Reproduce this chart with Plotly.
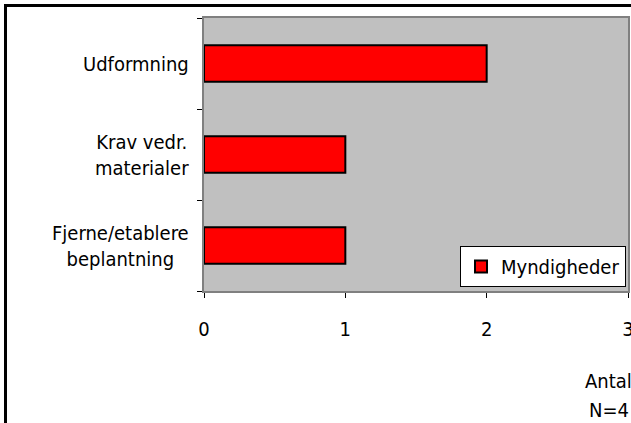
import plotly.graph_objects as go

categories = ["Fjerne/etablere<br>beplantning", "Krav vedr.<br>materialer", "Udformning"]
values = [1, 1, 2]
series_name = "Myndigheder"
x_ticks = [0, 1, 2, 3]

FONT = "DejaVu Sans Condensed"
FS = 20
W, H = 631, 423
L, R, T, B = 204, 3, 18, 132
pw = W - L - R
ph = H - T - B

fig = go.Figure()
fig.add_trace(go.Bar(
    y=categories, x=values, orientation="h", name=series_name,
    marker=dict(color="#FF0000", line=dict(color="black", width=2)),
    width=0.4, showlegend=True,
))

for c in categories:
    fig.add_annotation(
        x=0, xref="paper", y=c, yref="y", text=c, showarrow=False,
        xanchor="right", yanchor="middle", align="center", xshift=-13,
        font=dict(family=FONT, size=FS, color="black"),
    )

fig.add_annotation(x=(608 - L) / pw, xref="paper", y=(T + ph - 381) / ph, yref="paper",
                   text="Antal", showarrow=False, xanchor="center", yanchor="middle",
                   font=dict(family=FONT, size=FS, color="black"))
fig.add_annotation(x=(609 - L) / pw, xref="paper", y=(T + ph - 410) / ph, yref="paper",
                   text="N=4", showarrow=False, xanchor="center", yanchor="middle",
                   font=dict(family=FONT, size=FS, color="black"))

# outer frame (right/bottom edges fall outside the visible page, as in the reference)
fig.add_shape(type="path", xref="paper", yref="paper",
              path="M {x0},{y0} L {x0},{y1} L {x1},{y1}".format(
                  x0=(5.5 - L) / pw, y0=(T + ph - H - 5) / ph,
                  y1=(T + ph - 5.5) / ph, x1=(W + 5 - L) / pw),
              line=dict(color="black", width=3), layer="above")

fig.update_layout(
    width=W, height=H, autosize=False,
    margin=dict(l=L, r=R, t=T, b=B, pad=0, autoexpand=False),
    paper_bgcolor="white", plot_bgcolor="#C0C0C0",
    font=dict(family=FONT, size=FS, color="black"),
    bargap=0.6,
    legend=dict(x=(626 - L) / pw, xanchor="right", y=(T + ph - 287) / ph, yanchor="bottom",
                bgcolor="white", bordercolor="black", borderwidth=1,
                font=dict(family=FONT, size=FS, color="black"),
                itemwidth=30, tracegroupgap=0),
    xaxis=dict(range=[0, 3], tickvals=x_ticks, ticks="outside", ticklen=5,
               tickcolor="black", showgrid=False, zeroline=False, automargin=False,
               showline=True, linecolor="#808080", linewidth=1.5, mirror=True,
               ticklabelstandoff=14, ticklabeloverflow="allow",
               tickfont=dict(family=FONT, size=FS)),
    yaxis=dict(type="category", categoryorder="array", categoryarray=categories,
               tickson="boundaries", ticks="outside", ticklen=5, tickcolor="black",
               showticklabels=False, showgrid=False, zeroline=False, automargin=False,
               showline=True, linecolor="#808080", linewidth=1.5, mirror=True),
)

fig.write_html(
    "out.html",
    config={"displayModeBar": False},
    post_script="document.body.style.margin='0';document.body.style.overflow='hidden';",
)
